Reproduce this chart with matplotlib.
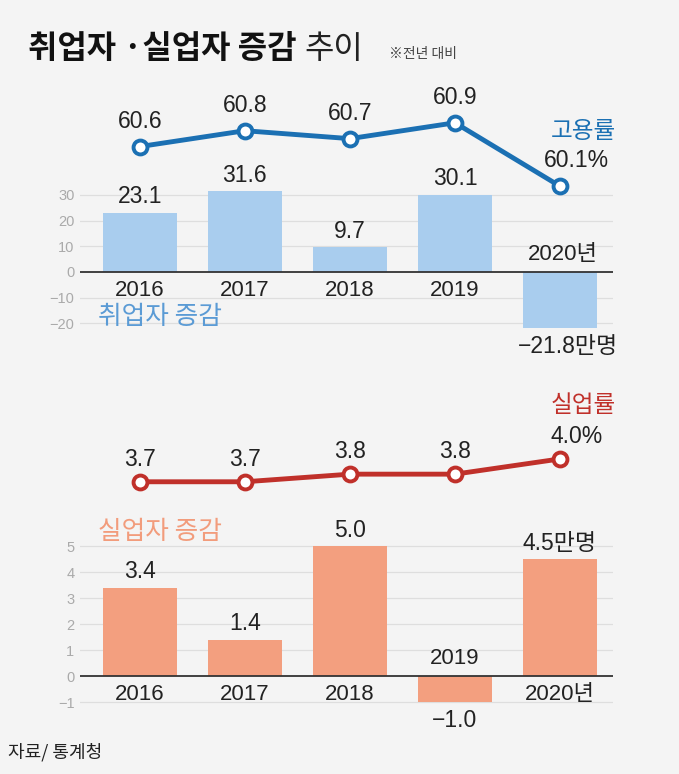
import matplotlib.pyplot as plt

years = ['2016', '2017', '2018', '2019', '2020']
emp_rate = [60.6, 60.8, 60.7, 60.9, 60.1]
emp_change = [23.1, 31.6, 9.7, 30.1, -21.8]
unemp_rate = [3.7, 3.7, 3.8, 3.8, 4.0]
unemp_change = [3.4, 1.4, 5.0, -1.0, 4.5]

emp_ticks = [30, 20, 10, 0, -10, -20]
unemp_ticks = [5, 4, 3, 2, 1, 0, -1]

FAM = ['Liberation Sans', 'Noto Sans CJK KR', 'DejaVu Sans']
KR = ['Noto Sans CJK KR', 'DejaVu Sans']
plt.rcParams['font.family'] = FAM
plt.rcParams['axes.unicode_minus'] = True

BG = '#f4f4f4'
W, H = 679, 774
NUM = 16.5
fig = plt.figure(figsize=(W / 100, H / 100), dpi=100, facecolor=BG)


def px_axes(x0, x1, ytop, ybot):
    return fig.add_axes([x0 / W, 1 - ybot / H, (x1 - x0) / W, (ybot - ytop) / H])


x = list(range(len(years)))
xlim = (-0.6, 4.5)
X0, X1 = 80, 612.5


def bar_panel(ax, vals, ticks, ylim, color):
    ax.set_facecolor('none')
    ax.set_xlim(-0.57, 4.5)
    ax.set_ylim(*ylim)
    for t in ticks:
        if t == 0:
            ax.axhline(0, color='#333333', lw=1.3, zorder=3)
        else:
            ax.axhline(t, color='#dedede', lw=0.9, zorder=0)
    ax.bar(x, vals, width=0.71, color=color, zorder=2)
    ax.set_yticks(ticks)
    ax.set_yticklabels([str(t).replace('-', '\u2212') for t in ticks])
    ax.tick_params(axis='y', length=0, pad=4, labelsize=10.5, labelcolor='#aaaaaa')
    ax.set_xticks([])
    for s in ax.spines.values():
        s.set_visible(False)


def line_panel(ax, vals, ylim, color):
    ax.set_facecolor('none')
    ax.set_xlim(-0.57, 4.5)
    ax.set_ylim(*ylim)
    ax.plot(x, vals, color=color, lw=3.5, marker='o', ms=10, mfc='white',
            mec=color, mew=2.8, zorder=3)
    ax.axis('off')


# ---- 취업자 ----
ax1 = px_axes(X0, X1, 182, 336)
bar_panel(ax1, emp_change, emp_ticks, (-25, 35), '#a9cdee')
for i, v in enumerate(emp_change):
    if v >= 0:
        ax1.annotate(f'{v:.1f}', (i, v), xytext=(0, 3), textcoords='offset points',
                     ha='center', va='bottom', fontsize=NUM, color='#222222')
        ax1.annotate(years[i], (i, 0), xytext=(0, -6), textcoords='offset points',
                     ha='center', va='top', fontsize=NUM - 0.5, color='#222222')
    else:
        ax1.annotate(f'\u2212{abs(v):.1f}만명', (i, v), xytext=(6, -5),
                     textcoords='offset points', ha='center', va='top',
                     fontsize=NUM, color='#222222')
        ax1.annotate(years[i] + '년', (i, 0), xytext=(2, 5), textcoords='offset points',
                     ha='center', va='bottom', fontsize=NUM - 0.5, color='#222222')
ax1.text(0.19, -17.5, '취업자 증감', family=KR, fontsize=18.5, color='#5b9bd5',
         ha='center', va='center')

ax2 = px_axes(X0, X1, 99, 210)
line_panel(ax2, emp_rate, (59.8, 61.2), '#1b70b3')
for i, v in enumerate(emp_rate):
    lab = f'{v:.1f}' + ('%' if i == len(emp_rate) - 1 else '')
    dx = 12 if i == len(emp_rate) - 1 else 0
    ax2.annotate(lab, (i, v), xytext=(dx, 10), textcoords='offset points',
                 ha='center', va='bottom', fontsize=NUM, color='#222222')
ax2.annotate('고용률', (4, 60.1), xytext=(17, 31), textcoords='offset points',
             ha='center', va='bottom', family=KR, fontsize=17, color='#1b70b3')

# ---- 실업자 ----
ax3 = px_axes(X0, X1, 530.4, 717.6)
bar_panel(ax3, unemp_change, unemp_ticks, (-1.6, 5.6), '#f39f7f')
for i, v in enumerate(unemp_change):
    if v >= 0:
        lab = f'{v:.1f}' + ('만명' if i == len(unemp_change) - 1 else '')
        ax3.annotate(lab, (i, v), xytext=(0, 3), textcoords='offset points',
                     ha='center', va='bottom', fontsize=NUM, color='#222222')
        ylab = years[i] + ('년' if i == len(years) - 1 else '')
        ax3.annotate(ylab, (i, 0), xytext=(0, -6), textcoords='offset points',
                     ha='center', va='top', fontsize=NUM - 0.5, color='#222222')
    else:
        ax3.annotate(f'\u2212{abs(v):.1f}', (i, v), xytext=(0, -5),
                     textcoords='offset points', ha='center', va='top',
                     fontsize=NUM, color='#222222')
        ax3.annotate(years[i], (i, 0), xytext=(0, 5), textcoords='offset points',
                     ha='center', va='bottom', fontsize=NUM - 0.5, color='#222222')
ax3.text(0.19, 5.55, '실업자 증감', family=KR, fontsize=18.5, color='#f29c7c',
         ha='center', va='center')

ax4 = px_axes(X0, X1, 443.7, 497)
line_panel(ax4, unemp_rate, (3.5, 4.2), '#c0302a')
for i, v in enumerate(unemp_rate):
    lab = f'{v:.1f}' + ('%' if i == len(unemp_rate) - 1 else '')
    dx = 12 if i == len(unemp_rate) - 1 else 0
    ax4.annotate(lab, (i, v), xytext=(dx, 8), textcoords='offset points',
                 ha='center', va='bottom', fontsize=NUM, color='#222222')
ax4.annotate('실업률', (4, 4.0), xytext=(17, 30), textcoords='offset points',
             ha='center', va='bottom', family=KR, fontsize=17, color='#c0302a')

# ---- title / source ----
TY = 1 - 58 / H
ttl = fig.text(28 / W, TY, '취업자 ·실업자 증감', family=KR, fontsize=23,
               fontweight='bold', color='#111111', va='baseline')
fig.canvas.draw()
bb = ttl.get_window_extent()
t2 = fig.text((bb.x1 + 8) / W, TY, '추이', family=KR, fontsize=23,
              color='#222222', va='baseline')
fig.canvas.draw()
bb2 = t2.get_window_extent()
fig.text((bb2.x1 + 26) / W, TY, '※전년 대비', family=KR, fontsize=10,
         color='#444444', va='baseline')
fig.text(8 / W, 1 - 752 / H, '자료/ 통계청', family=KR, fontsize=13, color='#222222',
         va='center', style='italic')

fig.savefig('out.png', dpi=100, facecolor=BG)
